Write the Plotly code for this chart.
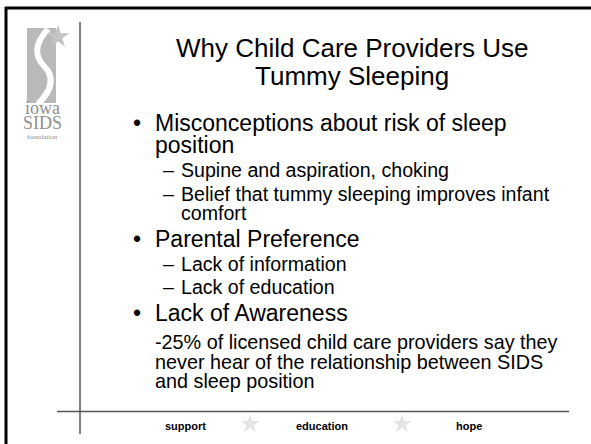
import plotly.graph_objects as go

# slide text
title_lines = ["Why Child Care Providers Use", "Tummy Sleeping"]
body_text = [
    "Misconceptions about risk of sleep",
    "position",
    "Supine and aspiration, choking",
    "Belief that tummy sleeping improves infant",
    "comfort",
    "Parental Preference",
    "Lack of information",
    "Lack of education",
    "Lack of Awareness",
    "-25% of licensed child care providers say they",
    "never hear of the relationship between SIDS",
    "and sleep position",
]
# 1 = bullet, 0 = continuation of level 1, 2 = dash, 3 = continuation of level 2, 4 = plain paragraph
body_level = [1, 0, 2, 2, 3, 1, 2, 2, 1, 4, 4, 4]
footer_words = ["support", "education", "hope"]
logo_words = ["iowa", "SIDS", "foundation"]

# layout (pixels, y down)
W, H = 591, 444
title_y = [49, 77]
body_y = [123.5, 145, 170, 194, 213, 239.5, 264, 287.5, 313.5, 342.5, 362.5, 381]
footer_x = [185, 322, 469]
footer_star_x = [250, 402]
FONT = "Liberation Sans, Arial, sans-serif"
LEVEL_STYLE = {  # x of text, font size
    0: (153, 23), 1: (153, 23), 2: (179, 19.6), 3: (179, 19.6), 4: (153, 19.8),
}

fig = go.Figure()

# stars (logo + footer)
fig.add_trace(go.Scatter(
    x=[58], y=[37], mode="markers", hoverinfo="skip",
    marker=dict(symbol="star", size=17, color="#c4c4c4", line=dict(width=0)),
))
fig.add_trace(go.Scatter(
    x=footer_star_x, y=[424] * len(footer_star_x), mode="markers", hoverinfo="skip",
    marker=dict(symbol="star", size=14, color="#e4e4e4", line=dict(width=0)),
))

shapes = [
    # blank right edge of the slide
    dict(type="rect", x0=574, y0=10, x1=W, y1=H, fillcolor="white", line=dict(width=0), layer="above"),
    # slide frame
    dict(type="line", x0=5, y0=8, x1=W, y1=8, line=dict(color="black", width=3)),
    dict(type="line", x0=6, y0=7, x1=6, y1=H, line=dict(color="black", width=3)),
    # divider lines
    dict(type="line", x0=80, y0=22, x1=80, y1=434, line=dict(color="black", width=1)),
    dict(type="line", x0=57, y0=411.5, x1=569, y1=411.5, line=dict(color="#555555", width=1.5)),
    # logo block with white swoosh
    dict(type="rect", x0=27, y0=28, x1=56, y1=103, fillcolor="#b9b9b9", line=dict(width=0), layer="below"),
    dict(type="path", path="M 48,29 C 36,42 33,55 44,66 C 55,77 52,90 38,104",
         line=dict(color="white", width=6), layer="below"),
]

annotations = []
for txt, y in zip(title_lines, title_y):
    annotations.append(dict(x=352, y=y - 1.5, text=txt, showarrow=False, xanchor="center",
                            yanchor="middle", font=dict(family=FONT, size=26, color="black")))

for txt, lvl, y in zip(body_text, body_level, body_y):
    x, size = LEVEL_STYLE[lvl]
    annotations.append(dict(x=x, y=y - 0.5, text=txt, showarrow=False, xanchor="left",
                            yanchor="middle", font=dict(family=FONT, size=size, color="black")))
    if lvl == 1:
        annotations.append(dict(x=137, y=y - 0.5, text="•", showarrow=False, xanchor="center",
                                yanchor="middle", font=dict(family=FONT, size=23, color="black")))
    if lvl == 2:
        annotations.append(dict(x=161, y=y - 0.5, text="–", showarrow=False, xanchor="left",
                                yanchor="middle", font=dict(family=FONT, size=19.6, color="black")))

for txt, x in zip(footer_words, footer_x):
    annotations.append(dict(x=x, y=426, text="<b>" + txt + "</b>", showarrow=False, xanchor="center",
                            yanchor="middle", font=dict(family=FONT, size=11, color="black")))

for txt, y, size in zip(logo_words, [108, 123, 137], [18, 18, 7]):
    annotations.append(dict(x=42, y=y, text=txt, showarrow=False, xanchor="center", yanchor="middle",
                            font=dict(family="Liberation Serif, Times New Roman, serif", size=size,
                                      color="#8f8f8f")))

fig.update_layout(
    width=W, height=H,
    margin=dict(l=0, r=0, t=0, b=0),
    paper_bgcolor="white", plot_bgcolor="white",
    showlegend=False,
    shapes=shapes,
    annotations=annotations,
    xaxis=dict(range=[0, W], visible=False, fixedrange=True),
    yaxis=dict(range=[H, 0], visible=False, fixedrange=True),
)

# page body margin would shift the slide by 8px
fig.write_html(
    "out.html", config={"displayModeBar": False, "staticPlot": True},
    post_script="document.body.style.margin='0';document.body.style.overflow='hidden';"
                "document.documentElement.style.overflow='hidden';",
)
